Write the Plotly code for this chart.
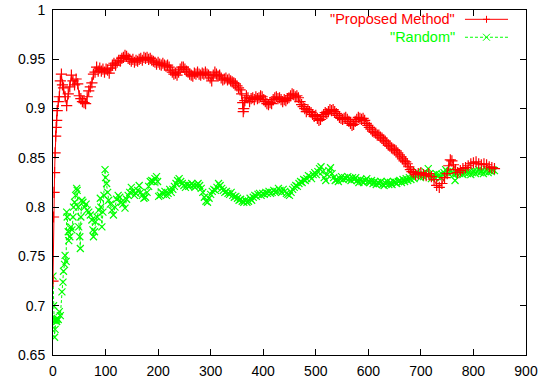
import plotly.graph_objects as go

# ---------------- data ----------------
proposed_x = [0, 1, 2, 3, 4, 5, 6, 7, 8, 10, 12, 14, 16, 18, 20, 23, 26, 29, 32, 35, 38, 41, 44, 47,
              50, 53, 56, 59, 62, 65, 68, 71, 74, 77, 80, 83, 86, 89, 92, 95, 98, 101, 104, 107,
              110, 113, 116, 119, 122, 125, 128, 131, 134, 137, 140, 143, 146, 149, 152, 155, 158,
              161, 164, 167, 170, 173, 176, 179, 182, 185, 188, 191, 194, 197, 200, 203, 206, 209,
              212, 215, 218, 221, 224, 227, 230, 233, 236, 239, 242, 245, 248, 251, 254, 257, 260,
              263, 266, 269, 272, 275, 278, 281, 284, 287, 290, 293, 296, 299, 302, 305, 308, 311,
              314, 317, 320, 323, 326, 329, 332, 335, 338, 341, 344, 347, 350, 353, 356, 359, 361,
              362, 363, 365, 368, 371, 374, 377, 380, 383, 386, 389, 392, 395, 398, 401, 404, 407,
              410, 413, 416, 419, 422, 425, 428, 431, 434, 437, 440, 443, 446, 449, 452, 455, 458,
              461, 464, 467, 470, 473, 476, 479, 482, 485, 488, 491, 494, 497, 500, 503, 506, 509,
              512, 515, 518, 521, 524, 527, 530, 533, 536, 539, 542, 545, 548, 551, 554, 557, 560,
              563, 566, 569, 572, 575, 578, 581, 584, 587, 590, 593, 596, 599, 602, 605, 608, 611,
              614, 617, 620, 623, 626, 629, 632, 635, 638, 641, 644, 647, 650, 653, 656, 659, 662,
              665, 668, 671, 674, 677, 680, 683, 686, 690, 695, 700, 705, 710, 715, 720, 725, 730,
              735, 740, 745, 750, 753, 756, 759, 762, 766, 770, 775, 780, 785, 790, 795, 800, 805,
              810, 815, 820, 825, 830, 835, 840]
proposed_y = [0.725, 0.790, 0.815, 0.835, 0.855, 0.872, 0.881, 0.888, 0.898, 0.907, 0.912, 0.928,
              0.935, 0.924, 0.921, 0.912, 0.903, 0.915, 0.922, 0.934, 0.928, 0.924, 0.930, 0.925,
              0.913, 0.910, 0.907, 0.906, 0.905, 0.912, 0.918, 0.922, 0.926, 0.935, 0.937, 0.942,
              0.938, 0.941, 0.938, 0.940, 0.937, 0.940, 0.939, 0.936, 0.941, 0.944, 0.946, 0.944,
              0.947, 0.949, 0.948, 0.951, 0.952, 0.954, 0.953, 0.951, 0.950, 0.948, 0.950, 0.947,
              0.949, 0.948, 0.950, 0.951, 0.949, 0.952, 0.951, 0.952, 0.950, 0.951, 0.949, 0.948,
              0.947, 0.945, 0.947, 0.945, 0.944, 0.946, 0.944, 0.943, 0.944, 0.942, 0.939, 0.937,
              0.935, 0.936, 0.934, 0.937, 0.940, 0.942, 0.942, 0.940, 0.938, 0.937, 0.935, 0.934,
              0.933, 0.936, 0.935, 0.937, 0.935, 0.934, 0.936, 0.935, 0.937, 0.935, 0.934, 0.931,
              0.928, 0.934, 0.937, 0.935, 0.933, 0.934, 0.931, 0.929, 0.930, 0.931, 0.929, 0.930,
              0.928, 0.927, 0.926, 0.925, 0.923, 0.921, 0.919, 0.915, 0.906, 0.897, 0.900, 0.908,
              0.913, 0.911, 0.907, 0.910, 0.911, 0.909, 0.912, 0.910, 0.911, 0.913, 0.912, 0.909,
              0.907, 0.905, 0.904, 0.906, 0.905, 0.909, 0.911, 0.912, 0.910, 0.911, 0.909, 0.907,
              0.909, 0.908, 0.910, 0.911, 0.913, 0.915, 0.914, 0.912, 0.913, 0.911, 0.907, 0.904,
              0.902, 0.900, 0.897, 0.899, 0.897, 0.896, 0.894, 0.892, 0.893, 0.890, 0.888, 0.889,
              0.892, 0.894, 0.896, 0.895, 0.897, 0.899, 0.898, 0.899, 0.897, 0.895, 0.893, 0.891,
              0.890, 0.889, 0.890, 0.891, 0.889, 0.887, 0.885, 0.883, 0.884, 0.887, 0.889, 0.891,
              0.890, 0.889, 0.890, 0.888, 0.885, 0.883, 0.881, 0.879, 0.877, 0.876, 0.875, 0.873,
              0.873, 0.871, 0.870, 0.868, 0.867, 0.865, 0.863, 0.862, 0.860, 0.859, 0.858, 0.857,
              0.855, 0.853, 0.851, 0.849, 0.847, 0.846, 0.844, 0.841, 0.838, 0.836, 0.835, 0.833,
              0.834, 0.835, 0.833, 0.832, 0.834, 0.831, 0.828, 0.822, 0.820, 0.824, 0.830, 0.834,
              0.842, 0.848, 0.847, 0.843, 0.838, 0.835, 0.837, 0.839, 0.840, 0.842, 0.844, 0.845,
              0.846, 0.844, 0.843, 0.844, 0.843, 0.841, 0.840, 0.839]

random_x = [0, 1, 2, 3, 4, 5, 6, 7, 8, 10, 12, 14, 17, 19, 20, 22, 23, 25, 26, 27, 29, 30, 32, 34,
            36, 38, 39, 41, 43, 45, 46, 48, 49, 51, 52, 53, 55, 57, 60, 63, 65, 68, 71, 74, 76, 77,
            79, 81, 84, 87, 90, 91, 93, 95, 97, 99, 100, 102, 104, 106, 109, 112, 115, 118, 121,
            124, 127, 130, 133, 137, 140, 143, 146, 149, 152, 155, 158, 161, 164, 167, 170, 173,
            176, 179, 182, 185, 188, 191, 194, 197, 199, 201, 204, 207, 210, 213, 216, 219, 222,
            225, 228, 231, 234, 237, 240, 243, 246, 249, 252, 255, 258, 261, 264, 267, 270, 273,
            276, 279, 282, 285, 288, 291, 294, 297, 300, 303, 306, 309, 312, 315, 318, 321, 324,
            327, 330, 333, 336, 339, 342, 345, 348, 351, 354, 357, 360, 363, 366, 369, 372, 375,
            378, 381, 384, 387, 390, 393, 396, 399, 402, 405, 408, 411, 414, 417, 420, 423, 426,
            429, 432, 435, 438, 441, 444, 447, 450, 453, 456, 459, 462, 465, 468, 471, 474, 477,
            480, 483, 486, 489, 492, 495, 498, 501, 504, 507, 510, 513, 516, 519, 522, 525, 528,
            531, 534, 537, 540, 543, 546, 549, 552, 555, 558, 561, 564, 567, 570, 573, 576, 579,
            582, 585, 588, 591, 594, 597, 600, 603, 606, 609, 612, 615, 618, 621, 624, 627, 630,
            633, 636, 639, 642, 645, 648, 651, 654, 657, 660, 663, 666, 669, 672, 675, 678, 681,
            684, 687, 690, 693, 696, 699, 702, 705, 708, 711, 714, 717, 720, 723, 726, 729, 732,
            735, 738, 741, 744, 747, 750, 753, 756, 759, 762, 765, 768, 771, 774, 777, 780, 783,
            786, 789, 792, 795, 798, 801, 804, 807, 810, 813, 816, 819, 822, 825, 828, 831, 834,
            837, 840]
random_y = [0.730, 0.700, 0.685, 0.668, 0.676, 0.685, 0.686, 0.684, 0.687, 0.686, 0.694, 0.690,
            0.714, 0.724, 0.735, 0.742, 0.751, 0.745, 0.795, 0.790, 0.775, 0.766, 0.770, 0.780,
            0.777, 0.790, 0.800, 0.805, 0.812, 0.819, 0.817, 0.800, 0.780, 0.770, 0.758, 0.790,
            0.807, 0.805, 0.800, 0.803, 0.797, 0.795, 0.792, 0.787, 0.777, 0.770, 0.775, 0.785,
            0.790, 0.797, 0.809, 0.800, 0.780, 0.795, 0.812, 0.838, 0.830, 0.824, 0.815, 0.807,
            0.803, 0.797, 0.792, 0.800, 0.808, 0.812, 0.810, 0.805, 0.803, 0.799, 0.808, 0.812,
            0.815, 0.820, 0.816, 0.812, 0.814, 0.817, 0.822, 0.815, 0.812, 0.809, 0.810, 0.815,
            0.821, 0.826, 0.827, 0.826, 0.829, 0.831, 0.826, 0.811, 0.812, 0.815, 0.813, 0.816,
            0.812, 0.814, 0.818, 0.815, 0.818, 0.821, 0.824, 0.827, 0.829, 0.826, 0.824, 0.822,
            0.820, 0.823, 0.821, 0.822, 0.824, 0.822, 0.820, 0.822, 0.824, 0.822, 0.819, 0.815,
            0.810, 0.806, 0.805, 0.809, 0.813, 0.816, 0.818, 0.817, 0.820, 0.824, 0.822, 0.819,
            0.817, 0.815, 0.816, 0.814, 0.813, 0.815, 0.812, 0.810, 0.811, 0.809, 0.807, 0.808,
            0.806, 0.805, 0.807, 0.805, 0.806, 0.809, 0.807, 0.810, 0.812, 0.811, 0.813, 0.814,
            0.812, 0.814, 0.813, 0.815, 0.814, 0.816, 0.814, 0.815, 0.817, 0.815, 0.816, 0.819,
            0.817, 0.815, 0.818, 0.816, 0.814, 0.813, 0.812, 0.815, 0.818, 0.820, 0.822, 0.821,
            0.824, 0.826, 0.825, 0.828, 0.827, 0.829, 0.832, 0.831, 0.829, 0.833, 0.835, 0.833,
            0.836, 0.839, 0.841, 0.836, 0.830, 0.827, 0.833, 0.837, 0.840, 0.834, 0.830, 0.827,
            0.828, 0.826, 0.829, 0.831, 0.828, 0.830, 0.829, 0.831, 0.829, 0.827, 0.830, 0.828,
            0.830, 0.827, 0.825, 0.828, 0.826, 0.825, 0.827, 0.829, 0.826, 0.825, 0.827, 0.824,
            0.826, 0.823, 0.825, 0.824, 0.826, 0.823, 0.822, 0.824, 0.826, 0.823, 0.825, 0.823,
            0.826, 0.825, 0.824, 0.826, 0.827, 0.825, 0.828, 0.826, 0.829, 0.827, 0.830, 0.828,
            0.831, 0.829, 0.832, 0.836, 0.833, 0.830, 0.834, 0.831, 0.836, 0.832, 0.839, 0.834,
            0.829, 0.832, 0.830, 0.834, 0.831, 0.833, 0.830, 0.833, 0.835, 0.838, 0.836, 0.834,
            0.837, 0.835, 0.833, 0.827, 0.834, 0.836, 0.834, 0.836, 0.833, 0.835, 0.837, 0.834,
            0.836, 0.833, 0.835, 0.837, 0.834, 0.836, 0.838, 0.835, 0.837, 0.834, 0.836, 0.838,
            0.835, 0.837, 0.836, 0.838, 0.837]

series_names = ['"Proposed Method"', '"Random"']
x_ticks = [0, 100, 200, 300, 400, 500, 600, 700, 800, 900]
y_ticks = [0.65, 0.7, 0.75, 0.8, 0.85, 0.9, 0.95, 1.0]
y_tick_text = ["0.65", "0.7", "0.75", "0.8", "0.85", "0.9", "0.95", "1"]

RED = "#ff0000"
GREEN = "#00ff00"
FONT = "Liberation Sans, Arial, sans-serif"

fig = go.Figure()
fig.add_trace(go.Scatter(
    x=random_x, y=random_y, mode="lines+markers", name=series_names[1],
    line=dict(color=GREEN, width=1, dash="3px,2px"),
    marker=dict(symbol="x-thin", size=7, line=dict(color=GREEN, width=1.2), color=GREEN),
    showlegend=False))
fig.add_trace(go.Scatter(
    x=proposed_x, y=proposed_y, mode="lines+markers", name=series_names[0],
    line=dict(color=RED, width=1),
    marker=dict(symbol="cross-thin", size=8, line=dict(color=RED, width=1.2), color=RED),
    showlegend=False))

# legend, gnuplot style (text right-aligned, sample to the right)
legend_rows = [(series_names[0], RED, 0.973, "solid", "cross"),
               (series_names[1], GREEN, 0.921, "dash", "x")]
for name, col, yp, dash, sym in legend_rows:
    fig.add_annotation(xref="paper", yref="paper", x=0.851, y=yp, text=name,
                       showarrow=False, xanchor="right", yanchor="middle",
                       borderpad=0,
                       font=dict(family=FONT, size=14.5, color=col))
    fig.add_shape(type="line", xref="paper", yref="paper", x0=0.871, x1=0.962, y0=yp, y1=yp,
                  line=dict(color=col, width=1, dash="3px,2px" if dash == "dash" else "solid"))
    cx = 0.9165
    dx = 3.5 / 473
    dy = 3.5 / 345
    if sym == "cross":
        path = f"M{cx - dx},{yp} L{cx + dx},{yp} M{cx},{yp - dy} L{cx},{yp + dy}"
    else:
        path = f"M{cx - dx},{yp - dy} L{cx + dx},{yp + dy} M{cx - dx},{yp + dy} L{cx + dx},{yp - dy}"
    fig.add_shape(type="path", xref="paper", yref="paper", path=path,
                  line=dict(color=col, width=1))

axis_common = dict(showline=True, linecolor="black", linewidth=1, mirror="allticks",
                   ticks="inside", ticklen=6, tickcolor="black", showgrid=False, zeroline=False,
                   automargin=False,
                   tickfont=dict(family=FONT, size=14, color="black"))
fig.update_xaxes(range=[0, 900], tickvals=x_ticks, ticklabelstandoff=3, **axis_common)
fig.update_yaxes(range=[0.65, 1.0], tickvals=y_ticks, ticktext=y_tick_text,
                 ticklabelstandoff=4, **axis_common)

fig.update_layout(width=550, height=379, margin=dict(l=53, r=24, t=10, b=24),
                  plot_bgcolor="white", paper_bgcolor="white")

fig.write_html("out.html")
